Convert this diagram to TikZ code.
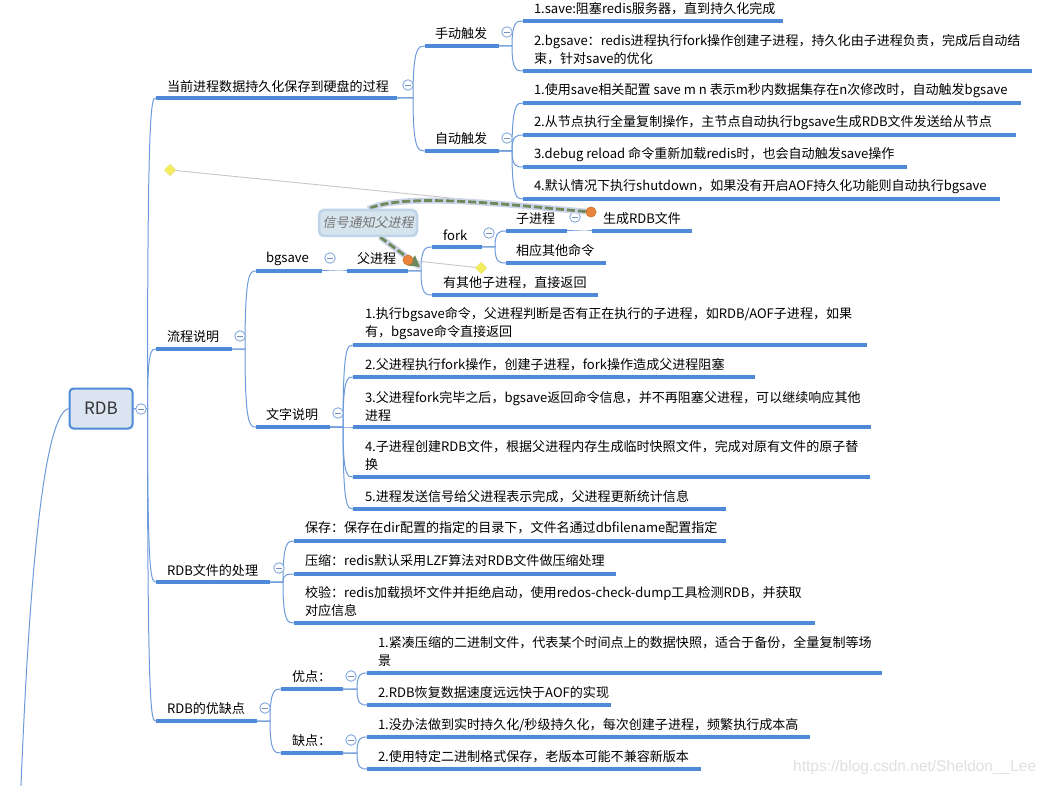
\documentclass[tikz,border=0pt]{standalone}
\usepackage{fontspec}
\usetikzlibrary{shapes.geometric,arrows.meta,calc}
\setmainfont{Noto Sans CJK SC}
\newfontfamily\cjki[FakeSlant=0.2]{Noto Sans CJK SC}
\newfontfamily\wm{Liberation Sans}
\definecolor{barblue}{HTML}{4F8AD8}
\definecolor{linkblue}{HTML}{6C9BDC}
\definecolor{collblue}{HTML}{86AADD}
\definecolor{rootfill}{HTML}{DBE5F1}
\definecolor{callfill}{HTML}{D6E4EE}
\definecolor{callrim}{HTML}{BFD4E8}
\definecolor{halo}{HTML}{CDD4EA}
\definecolor{flow}{HTML}{6F8A5A}
\definecolor{dotfill}{HTML}{E8843C}
\definecolor{dotrim}{HTML}{C9762E}
\definecolor{flagfill}{HTML}{F4EE5C}
\definecolor{flagrim}{HTML}{E8E080}
\tikzset{
  barnode/.style={rectangle,fill=barblue,draw=none,inner sep=0pt,outer sep=0pt,minimum height=3.8pt},
  lbl/.style={anchor=west,inner sep=0pt,outer sep=0pt,align=left,font=\fontsize{13.05}{18}\selectfont,text=black},
  link/.style={draw=linkblue,line width=1pt},
  collnode/.style={circle,draw=collblue,fill=white,line width=.9pt,minimum size=10.5pt,inner sep=0pt},
  collbar/.style={draw=collblue!85!black,line width=.9pt},
  rootnode/.style={rectangle,rounded corners=4pt,draw=barblue,line width=2pt,fill=rootfill,minimum width=63pt,minimum height=40pt,inner sep=0pt,font=\fontsize{17}{20}\selectfont,text=black!80},
  flagnode/.style={diamond,draw=flagrim,fill=flagfill,line width=.5pt,minimum size=11.5pt,inner sep=0pt},
  dotnode/.style={circle,draw=dotrim,fill=dotfill,line width=.5pt,minimum size=10pt,inner sep=0pt},
  relline/.style={draw=black!22,line width=.9pt},
  relhalo/.style={draw=halo,line width=6pt},
  relflow/.style={draw=flow,line width=2.8pt,dash pattern=on 8pt off 3pt},
  callnode/.style={rectangle,rounded corners=5pt,draw=callrim,fill=callfill,line width=2.5pt,minimum width=98pt,minimum height=26pt,inner sep=0pt,font=\cjki\fontsize{13}{16}\selectfont,text=black!55},
}
% name, x1, x2, bar y, text x, text y, text
\newcommand\tp[7]{%
  \node[barnode,minimum width=#3pt-#2pt] (#1) at ({(#2+#3)/2},#4) {};
  \node[lbl] (#1-t) at (#5,#6+1) {#7};
}
% parent, child, hub offset
\newcommand\conn[3]{\draw[link] let \p1=(#1.east),\p2=(#2.west) in (\p1) -- (\x1+#3pt,\y1)
  .. controls (\x1+#3pt,\y2) and ({\x1+#3pt+0.45*(\x2-\x1-#3pt)},\y2) .. (\p2);}
% name, x, y
\newcommand\clps[3]{\node[collnode] (#1) at (#2,#3) {};
  \draw[collbar] ($(#1)+(-3,0)$) -- ($(#1)+(3,0)$);}
\begin{document}
\begin{tikzpicture}[x=1pt,y=-1pt]
\useasboundingbox (0,0) rectangle (1052,786);
\fill[white] (0,0) rectangle (1052,786);

\node[rootnode] (root) at (101,408.5) {RDB};
\coordinate (exit) at (21,786);
\draw[link] (root.west) .. controls (45,415) and (30,560) .. (exit);

% level 1
\tp{a}{156}{397}{98}{167}{85}{当前进程数据持久化保存到硬盘的过程}
\tp{b}{156}{232}{349}{167}{336}{流程说明}
\tp{c}{156}{270}{582}{167}{569}{RDB文件的处理}
\tp{d}{156}{257}{721}{167}{708}{RDB的优缺点}
\conn{root}{a}{14}\conn{root}{b}{14}\conn{root}{c}{14}\conn{root}{d}{14}

% a
\tp{a1}{425}{499}{46}{435}{33}{手动触发}
\tp{a2}{425}{499}{151}{435}{138}{自动触发}
\conn{a}{a1}{16}\conn{a}{a2}{16}
\tp{a11}{523}{783}{21}{534}{8}{1.save:阻塞redis服务器，直到持久化完成}
\tp{a12}{523}{1032}{71}{534}{49}{2.bgsave：redis进程执行fork操作创建子进程，持久化由子进程负责，完成后自动结\\束，针对save的优化}
\conn{a1}{a11}{13}\conn{a1}{a12}{13}
\tp{a21}{523}{1021}{103}{534}{90}{1.使用save相关配置 save m n 表示m秒内数据集存在n次修改时，自动触发bgsave}
\tp{a22}{523}{1016}{135}{534}{122}{2.从节点执行全量复制操作，主节点自动执行bgsave生成RDB文件发送给从节点}
\tp{a23}{523}{907}{167}{534}{154}{3.debug reload 命令重新加载redis时，也会自动触发save操作}
\tp{a24}{523}{1000}{199}{534}{186}{4.默认情况下执行shutdown，如果没有开启AOF持久化功能则自动执行bgsave}
\conn{a2}{a21}{13}\conn{a2}{a22}{13}\conn{a2}{a23}{13}\conn{a2}{a24}{13}

% b
\tp{b1}{256}{322}{271}{266}{258}{bgsave}
\tp{b2}{256}{330}{427}{266}{414}{文字说明}
\conn{b}{b1}{13}\conn{b}{b2}{13}
\tp{p}{347}{408}{271}{357}{258}{父进程}
\conn{b1}{p}{13}
\tp{f}{432}{482}{247}{443}{234}{fork}
\tp{h}{432}{598}{295}{443}{282}{有其他子进程，直接返回}
\conn{p}{f}{13}\conn{p}{h}{13}
\tp{z}{506}{567}{231}{516}{218}{子进程}
\tp{x}{506}{606}{263}{516}{250}{相应其他命令}
\conn{f}{z}{13}\conn{f}{x}{13}
\tp{g}{592}{692}{231}{603}{218}{生成RDB文件}
\conn{z}{g}{13}

\tp{b21}{353}{867}{345}{365}{323}{1.执行bgsave命令，父进程判断是否有正在执行的子进程，如RDB/AOF子进程，如果\\有，bgsave命令直接返回}
\tp{b22}{353}{755}{377}{365}{364}{2.父进程执行fork操作，创建子进程，fork操作造成父进程阻塞}
\tp{b23}{353}{871}{427}{365}{405}{3.父进程fork完毕之后，bgsave返回命令信息，并不再阻塞父进程，可以继续响应其他\\进程}
\tp{b24}{353}{870}{477}{365}{454}{4.子进程创建RDB文件，根据父进程内存生成临时快照文件，完成对原有文件的原子替\\换}
\tp{b25}{353}{726}{509}{365}{496}{5.进程发送信号给父进程表示完成，父进程更新统计信息}
\conn{b2}{b21}{13}\conn{b2}{b22}{13}\conn{b2}{b23}{13}\conn{b2}{b24}{13}\conn{b2}{b25}{13}

% c
\tp{c1}{294}{726}{541}{305}{527}{保存：保存在dir配置的指定的目录下，文件名通过dbfilename配置指定}
\tp{c2}{294}{616}{574}{305}{560}{压缩：redis默认采用LZF算法对RDB文件做压缩处理}
\tp{c3}{294}{815}{623}{305}{601}{校验：redis加载损坏文件并拒绝启动，使用redos-check-dump工具检测RDB，并获取\\对应信息}
\conn{c}{c1}{13}\conn{c}{c2}{13}\conn{c}{c3}{13}

% d
\tp{d1}{281}{343}{689}{292}{676}{优点：}
\tp{d2}{281}{343}{753}{292}{740}{缺点：}
\conn{d}{d1}{13}\conn{d}{d2}{13}
\tp{d11}{367}{882}{673}{378}{650}{1.紧凑压缩的二进制文件，代表某个时间点上的数据快照，适合于备份，全量复制等场\\景}
\tp{d12}{367}{611}{705}{378}{692}{2.RDB恢复数据速度远远快于AOF的实现}
\tp{d21}{367}{810}{737}{378}{724}{1.没办法做到实时持久化/秒级持久化，每次创建子进程，频繁执行成本高}
\tp{d22}{367}{701}{769}{378}{756}{2.使用特定二进制格式保存，老版本可能不兼容新版本}
\conn{d1}{d11}{14}\conn{d1}{d12}{14}\conn{d2}{d21}{14}\conn{d2}{d22}{14}

% collapse marks
\clps{k0}{141}{409}
\clps{k1}{408}{85}\clps{k2}{240}{336}\clps{k3}{279}{568}\clps{k4}{265}{708}
\clps{k5}{507}{32}\clps{k6}{507}{138}
\clps{k7}{330}{258}\clps{k8}{338}{413}\clps{k9}{489}{233}\clps{k10}{575}{217}
\clps{k11}{351}{676}\clps{k12}{351}{740}

% relationships
\node[flagnode] (fl1) at (170,170) {};
\node[flagnode] (fl2) at (481,268) {};
\node[dotnode] (dot1) at (591,212) {};
\node[dotnode] (dot2) at (408,260) {};
\draw[relline] (fl1) -- (dot1);
\draw[relline] (dot2) -- (fl2);
\coordinate (ca) at (368,209);
\coordinate (cb) at (380,237);
\coordinate (tip) at (420,267);
\draw[relhalo] (dot1) .. controls (510,205) and (405,192) .. (ca);
\draw[relhalo] (cb) -- (tip);
\draw[relflow] (dot1) .. controls (510,205) and (405,192) .. (ca);
\draw[relflow,-{Triangle[length=11pt,width=12pt]}] (cb) -- (tip);
\node[callnode] (call) at (368,223) {信号通知父进程};
\node[dotnode] at (dot1) {};
\node[dotnode] at (dot2) {};

\node[anchor=west,inner sep=0pt,font=\wm\fontsize{15.5}{18}\selectfont,text=black!12] (wm) at (793,767) {https://blog.csdn.net/Sheldon\_\_Lee};
\end{tikzpicture}
\end{document}
